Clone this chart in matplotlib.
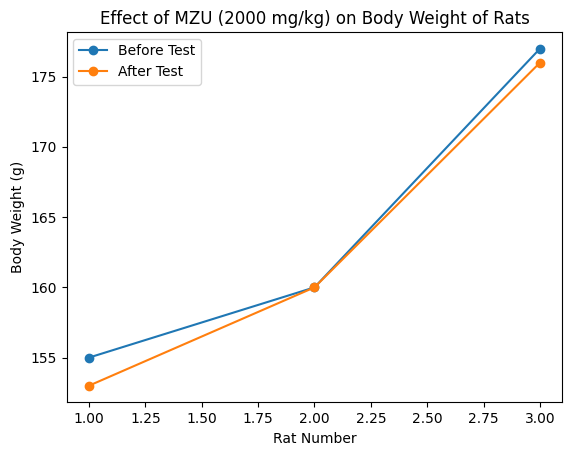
import matplotlib
matplotlib.use('Agg')
import matplotlib.pyplot as plt

rats = [1, 2, 3]
before_test = [155, 160, 177]
after_test = [153, 160, 176]

fig, ax = plt.subplots(figsize=(5.71, 4.55), dpi=100)
fig.subplots_adjust(left=0.1165, right=0.985, top=0.930, bottom=0.1154)

ax.plot(rats, before_test, marker='o', label='Before Test')
ax.plot(rats, after_test, marker='o', label='After Test')
ax.set_title('Effect of MZU (2000 mg/kg) on Body Weight of Rats')
ax.set_xlabel('Rat Number')
ax.set_ylabel('Body Weight (g)')
ax.legend()

fig.savefig('out.png', dpi=100)
plt.close()
